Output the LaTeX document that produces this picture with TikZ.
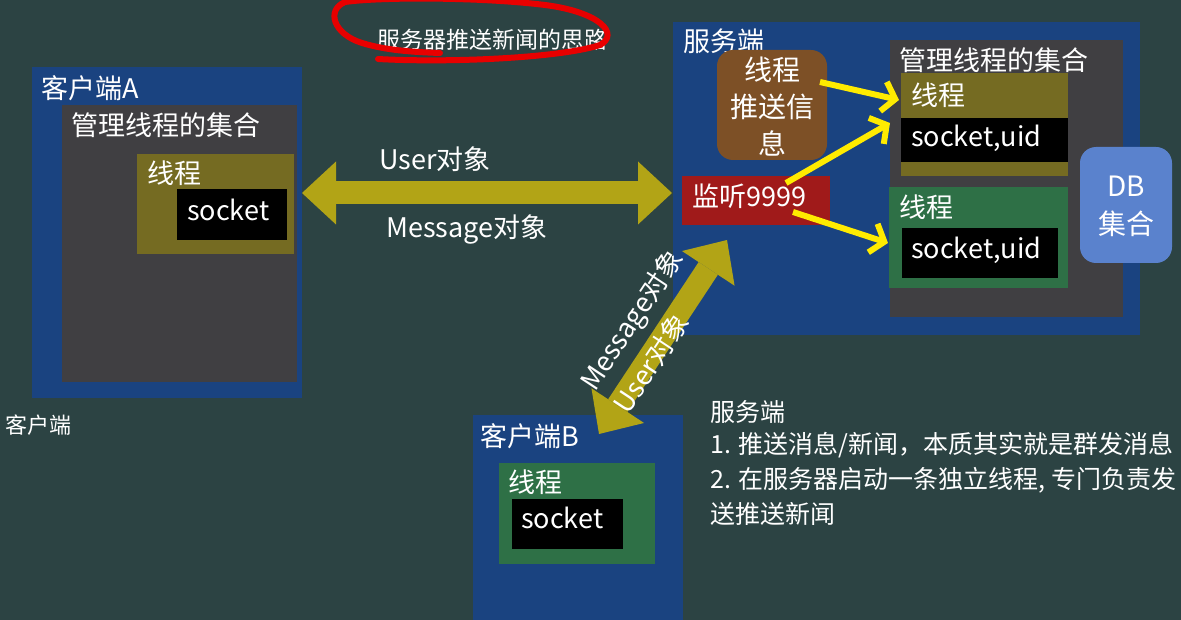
\documentclass[tikz,border=0pt]{standalone}
\usepackage{fontspec}
\setmainfont{Noto Sans CJK SC}
\usetikzlibrary{arrows.meta}
\definecolor{bg}{RGB}{44,67,67}
\definecolor{cblue}{RGB}{26,67,128}
\definecolor{cgray}{RGB}{64,63,66}
\definecolor{colive}{RGB}{117,107,34}
\definecolor{cgreen}{RGB}{46,112,70}
\definecolor{cbrown}{RGB}{125,80,38}
\definecolor{cred}{RGB}{160,26,26}
\definecolor{cdb}{RGB}{90,130,205}
\definecolor{carrow}{RGB}{178,164,22}
\definecolor{cyel}{RGB}{255,235,0}
\definecolor{cmark}{RGB}{232,0,0}
\tikzset{
  box/.style={anchor=north west, inner sep=0pt, outer sep=0pt, draw=none},
  txt/.style={text=white, inner sep=0pt, anchor=west},
  fbig/.style={font=\fontsize{27pt}{32pt}\selectfont},
  fmid/.style={font=\fontsize{25pt}{30pt}\selectfont},
  fsm/.style={font=\fontsize{22pt}{26pt}\selectfont},
  bigarrow/.style={draw=carrow, line width=23pt,
    {Triangle[length=34pt,width=63pt,line width=0pt]}-{Triangle[length=34pt,width=63pt,line width=0pt]}},
  yarrow/.style={draw=cyel, line width=6pt, -{Straight Barb[length=12pt,width=30pt]}},
}
\begin{document}
\begin{tikzpicture}[x=1pt,y=-1pt]
\clip (0,0) rectangle (1181,620);
\fill[bg] (0,0) rectangle (1181,620);

% title with red mark
\node[txt, font=\fontsize{23pt}{28pt}\selectfont] (title) at (377,40) {服务器推送新闻的思路};
\draw[cmark, line width=6pt, line cap=round]
  (378,59) .. controls (450,63) and (560,58) .. (600,45)
  .. controls (620,34) and (600,12) .. (545,5)
  .. controls (480,-3) and (380,-3) .. (345,2)
  .. controls (326,10) and (333,34) .. (362,43)
  .. controls (385,50) and (410,52) .. (440,53);

% client A
\node[box, fill=cblue, minimum width=270pt, minimum height=331pt] (clientA) at (32,67) {};
\node[box, fill=cgray, minimum width=235pt, minimum height=277pt] (setA) at (62,105) {};
\node[box, fill=colive, minimum width=157pt, minimum height=100pt] (thA) at (137,154) {};
\node[box, fill=black, minimum width=110pt, minimum height=51pt] (sockA) at (177,189) {};
\node[txt, fbig] (lA) at (41,88) {客户端A};
\node[txt, fbig] (lsetA) at (71,125) {管理线程的集合};
\node[txt, fbig] (lthA) at (147,173) {线程};
\node[txt, fbig] (lsockA) at (187,210) {socket};

\node[txt, fsm] (lclient) at (5,425) {客户端};

% server
\node[box, fill=cblue, minimum width=467pt, minimum height=313pt] (server) at (673,22) {};
\node[txt, fbig] (lserver) at (683,41) {服务端};
\node[box, fill=cbrown, minimum width=110pt, minimum height=110pt, rounded corners=16pt] (push) at (717,50) {};
\node[text=white, align=center, font=\fontsize{28pt}{37pt}\selectfont] (lpush) at (772,107) {线程\\推送信\\息};
\node[box, fill=cred, minimum width=148pt, minimum height=49pt] (listen) at (682,176) {};
\node[txt, fbig] (llisten) at (692,196) {监听9999};

\node[box, fill=cgray, minimum width=233pt, minimum height=277pt] (setS) at (890,40) {};
\node[txt, fbig] (lsetS) at (899,60) {管理线程的集合};
\node[box, fill=colive, minimum width=167pt, minimum height=103pt] (th1) at (901,73) {};
\node[txt, fbig] (lth1) at (911,95) {线程};
\node[box, fill=black, minimum width=167pt, minimum height=44pt] (sock1) at (901,118) {};
\node[txt, fbig] (lsock1) at (911,138) {socket,uid};
\node[box, fill=cgreen, minimum width=179pt, minimum height=101pt] (th2) at (889,187) {};
\node[txt, fbig] (lth2) at (899,207) {线程};
\node[box, fill=black, minimum width=156pt, minimum height=50pt] (sock2) at (902,228) {};
\node[txt, fbig] (lsock2) at (911,250) {socket,uid};

\node[box, fill=cdb, minimum width=92pt, minimum height=116pt, rounded corners=16pt] (db) at (1080,147) {};
\node[text=white, align=center, font=\fontsize{28pt}{38pt}\selectfont] (ldb) at (1126,206) {DB\\集合};

% client B
\node[box, fill=cblue, minimum width=210pt, minimum height=210pt] (clientB) at (473,415) {};
\node[txt, fbig] (lB) at (480,436) {客户端B};
\node[box, fill=cgreen, minimum width=156pt, minimum height=101pt] (thB) at (499,463) {};
\node[txt, fbig] (lthB) at (508,482) {线程};
\node[box, fill=black, minimum width=111pt, minimum height=50pt] (sockB) at (512,499) {};
\node[txt, fbig] (lsockB) at (521,518) {socket};

% notes
\node[txt, fmid] (n0) at (710,412) {服务端};
\node[txt, fmid] (n1) at (710,445) {1. 推送消息/新闻，本质其实就是群发消息};
\node[txt, fmid] (n2) at (710,480) {2. 在服务器启动一条独立线程, 专门负责发};
\node[txt, fmid] (n3) at (710,514) {送推送新闻};

% big arrows
\coordinate (hA) at (302,193);
\coordinate (hS) at (672,193);
\draw[bigarrow] (hA) -- (hS);
\node[txt, fbig, anchor=center] (lu1) at (435,159) {User对象};
\node[txt, fbig, anchor=center] (lm1) at (467,229) {Message对象};

\coordinate (dB) at (599,434);
\coordinate (dS) at (727,240);
\draw[bigarrow] (dB) -- (dS);
\node[txt, fbig, anchor=center, rotate=56.5] (lm2) at (633,321) {Message对象};
\node[txt, fbig, anchor=center, rotate=56.5] (lu2) at (651,363) {User对象};

% yellow arrows
\coordinate (y1s) at (820,82);
\coordinate (y1e) at (899,100);
\coordinate (y2s) at (786,183);
\coordinate (y2e) at (890,123);
\coordinate (y3s) at (793,212);
\coordinate (y3e) at (888,243);
\draw[yarrow] (y1s) -- (y1e);
\draw[yarrow] (y2s) -- (y2e);
\draw[yarrow] (y3s) -- (y3e);
\end{tikzpicture}
\end{document}
